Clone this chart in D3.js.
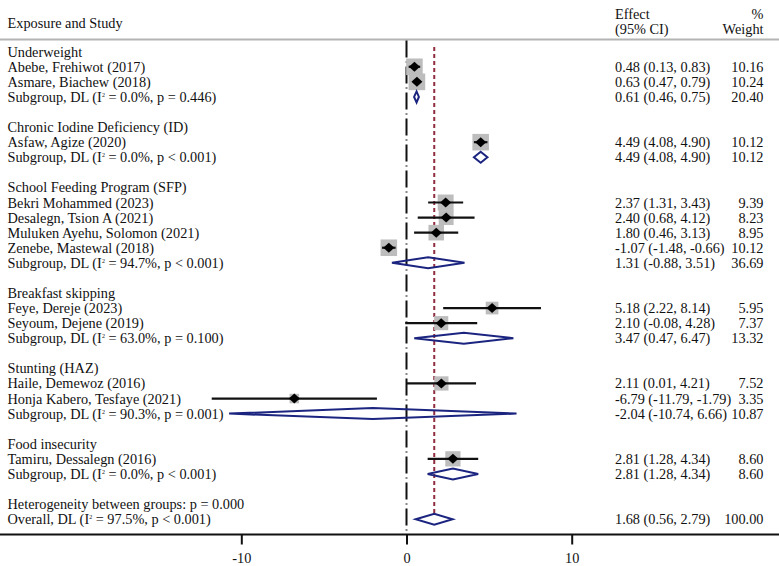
<!DOCTYPE html>
<html>
<head>
<meta charset="utf-8">
<script src="https://cdn.jsdelivr.net/npm/d3@7"></script>
<style>
  html, body { margin: 0; padding: 0; background: #fff; }
  svg text { font-family: "Liberation Serif", "Times New Roman", serif; font-size: 14.3px; fill: #111; }
</style>
</head>
<body>
<svg id="chart" width="779" height="566"></svg>
<script>
// ---------- DATA ----------
const groupNames = ["Underweight", "Chronic Iodine Deficiency (ID)", "School Feeding Program (SFP)",
  "Breakfast skipping", "Stunting (HAZ)", "Food insecurity"];

const studyLabels = ["Abebe, Frehiwot (2017)", "Asmare, Biachew (2018)",
  "Asfaw, Agize (2020)",
  "Bekri Mohammed (2023)", "Desalegn, Tsion A (2021)", "Muluken Ayehu, Solomon (2021)", "Zenebe, Mastewal (2018)",
  "Feye, Dereje (2023)", "Seyoum, Dejene (2019)",
  "Haile, Demewoz (2016)", "Honja Kabero, Tesfaye (2021)",
  "Tamiru, Dessalegn (2016)"];
const studyGroup  = [0, 0, 1, 2, 2, 2, 2, 3, 3, 4, 4, 5];
const studyEffect = [0.48, 0.63, 4.49, 2.37, 2.40, 1.80, -1.07, 5.18, 2.10, 2.11, -6.79, 2.81];
const studyLower  = [0.13, 0.47, 4.08, 1.31, 0.68, 0.46, -1.48, 2.22, -0.08, 0.01, -11.79, 1.28];
const studyUpper  = [0.83, 0.79, 4.90, 3.43, 4.12, 3.13, -0.66, 8.14, 4.28, 4.21, -1.79, 4.34];
const studyWeight = [10.16, 10.24, 10.12, 9.39, 8.23, 8.95, 10.12, 5.95, 7.37, 7.52, 3.35, 8.60];

const subEffect = [0.61, 4.49, 1.31, 3.47, -2.04, 2.81];
const subLower  = [0.46, 4.08, -0.88, 0.47, -10.74, 1.28];
const subUpper  = [0.75, 4.90, 3.51, 6.47, 6.66, 4.34];
const subWeight = [20.40, 10.12, 36.69, 13.32, 10.87, 8.60];
const subI2     = ["0.0%", "0.0%", "94.7%", "63.0%", "90.3%", "0.0%"];
const subP      = ["p = 0.446", "p < 0.001", "p < 0.001", "p = 0.100", "p = 0.001", "p < 0.001"];

const heterogeneityText = "Heterogeneity between groups: p = 0.000";
const overall = { effect: 1.68, lower: 0.56, upper: 2.79, weight: 100.00, i2: "97.5%", p: "p < 0.001" };

const xTicks = [-10, 0, 10];

// ---------- LAYOUT ----------
const W = 779, H = 566;
const svg = d3.select("#chart");
const x = d3.scaleLinear().domain([-10, 10]).range([241.3, 571.7]);
const y0 = 51.7, step = 15.08;
const rowY = i => y0 + i * step;
const axisY = 534.5;
const leftX = 7.5, effX = 615, wtX = 763.5;
const navy = "#1b2580", maroon = "#902d3e";
const loc = d3.formatLocale({ decimal: ".", thousands: ",", grouping: [3], currency: ["", ""], minus: "-" });
const f2 = loc.format(".2f");
const fInt = loc.format("d");
const ciText = (e, l, u) => `${f2(e)} (${f2(l)}, ${f2(u)})`;

// build rows
const rows = [];
let r = 0;
groupNames.forEach((g, gi) => {
  rows.push({ type: "group", label: g, i: r++ });
  studyLabels.forEach((s, si) => {
    if (studyGroup[si] === gi) rows.push({ type: "study", label: s, e: studyEffect[si], l: studyLower[si], u: studyUpper[si], w: studyWeight[si], i: r++ });
  });
  rows.push({ type: "sub", label: "Subgroup, DL", i2: subI2[gi], p: subP[gi], e: subEffect[gi], l: subLower[gi], u: subUpper[gi], w: subWeight[gi], i: r++ });
  r++;
});
rows.push({ type: "het", label: heterogeneityText, i: r++ });
rows.push({ type: "overall", label: "Overall, DL", i2: overall.i2, p: overall.p, e: overall.effect, l: overall.lower, u: overall.upper, w: overall.weight, i: r++ });

// ---------- HEADER ----------
svg.append("text").attr("x", leftX).attr("y", 23).attr("dy", "0.35em").text("Exposure and Study");
svg.append("text").attr("x", effX).attr("y", 13.5).attr("dy", "0.35em").text("Effect");
svg.append("text").attr("x", effX).attr("y", 29).attr("dy", "0.35em").text("(95% CI)");
svg.append("text").attr("x", wtX).attr("y", 13.5).attr("dy", "0.35em").attr("text-anchor", "end").text("%");
svg.append("text").attr("x", wtX).attr("y", 29).attr("dy", "0.35em").attr("text-anchor", "end").text("Weight");
svg.append("line").attr("x1", 0).attr("x2", W).attr("y1", 39.5).attr("y2", 39.5)
  .attr("stroke", "#b4b4b4").attr("stroke-width", 2);

// ---------- REFERENCE LINES ----------
const ovRow = rows.find(d => d.type === "overall");
svg.append("line").attr("x1", x(0)).attr("x2", x(0)).attr("y1", 40.5).attr("y2", axisY)
  .attr("stroke", "#111").attr("stroke-width", 2).attr("stroke-dasharray", "17,4,1,4");
svg.append("line").attr("x1", x(overall.effect)).attr("x2", x(overall.effect))
  .attr("y1", 47).attr("y2", rowY(ovRow.i) - 6)
  .attr("stroke", maroon).attr("stroke-width", 2).attr("stroke-dasharray", "4,3");

// ---------- STUDY MARKS ----------
const st = rows.filter(d => d.type === "study");
svg.append("g").selectAll("rect").data(st).join("rect")
  .attr("x", d => x(d.e) - 2.6 * Math.sqrt(d.w))
  .attr("y", d => rowY(d.i) - 2.6 * Math.sqrt(d.w))
  .attr("width", d => 5.2 * Math.sqrt(d.w))
  .attr("height", d => 5.2 * Math.sqrt(d.w))
  .attr("fill", "#bdbdbd");
svg.append("g").selectAll("line").data(st).join("line")
  .attr("x1", d => x(d.l)).attr("x2", d => x(d.u))
  .attr("y1", d => rowY(d.i)).attr("y2", d => rowY(d.i))
  .attr("stroke", "#111").attr("stroke-width", 2.2);
svg.append("g").selectAll("path").data(st).join("path")
  .attr("d", d => { const cx = x(d.e), cy = rowY(d.i); return `M${cx - 5.5},${cy}L${cx},${cy - 5}L${cx + 5.5},${cy}L${cx},${cy + 5}Z`; })
  .attr("fill", "#000");

// ---------- POOLED DIAMONDS ----------
const pooled = rows.filter(d => d.type === "sub" || d.type === "overall");
svg.append("g").selectAll("path").data(pooled).join("path")
  .attr("d", d => { const cy = rowY(d.i); return `M${x(d.l)},${cy}L${x(d.e)},${cy - 5.5}L${x(d.u)},${cy}L${x(d.e)},${cy + 5.5}Z`; })
  .attr("fill", "none").attr("stroke", navy).attr("stroke-width", 2).attr("stroke-linejoin", "miter");

// ---------- TEXT COLUMNS ----------
const tg = svg.append("g");
rows.forEach(d => {
  const t = tg.append("text").attr("x", leftX).attr("y", rowY(d.i)).attr("dy", "0.35em");
  if (d.type === "sub" || d.type === "overall") {
    t.append("tspan").text(d.label + " (I");
    t.append("tspan").attr("font-size", "6px").attr("dy", "-5").text("2");
    t.append("tspan").attr("dy", "5").text(` = ${d.i2}, ${d.p})`);
  } else {
    t.text(d.label);
  }
  if (d.type === "study" || d.type === "sub" || d.type === "overall") {
    tg.append("text").attr("x", effX).attr("y", rowY(d.i)).attr("dy", "0.35em").text(ciText(d.e, d.l, d.u));
    tg.append("text").attr("x", wtX).attr("y", rowY(d.i)).attr("dy", "0.35em").attr("text-anchor", "end").text(f2(d.w));
  }
});

// ---------- AXIS ----------
svg.append("line").attr("x1", 0).attr("x2", W).attr("y1", axisY).attr("y2", axisY)
  .attr("stroke", "#111").attr("stroke-width", 2);
const ax = svg.append("g").attr("transform", `translate(0,${axisY})`)
  .call(d3.axisBottom(x).tickValues(xTicks).tickSize(10).tickPadding(8).tickFormat(fInt));
ax.select(".domain").remove();
ax.selectAll(".tick line").attr("stroke", "#111").attr("stroke-width", 2);
ax.selectAll(".tick text").attr("font-family", "Liberation Serif, serif").attr("font-size", "14.3px").attr("fill", "#111");
</script>
</body>
</html>
